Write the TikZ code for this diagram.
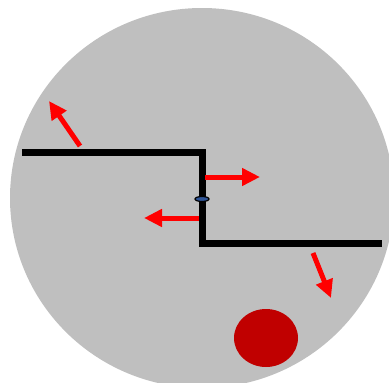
\documentclass[tikz,border=0pt]{standalone}
\usetikzlibrary{arrows.meta}
\definecolor{bggray}{HTML}{BFBFBF}
\definecolor{darkred}{HTML}{C00000}
\definecolor{ringblue}{HTML}{2F5597}
\tikzset{
  wall/.style={line width=7pt, black, line cap=butt},
  redarrow/.style={draw=red, line width=5pt, -{Triangle[width=17pt,length=18pt]}, red},
}
\begin{document}
\begin{tikzpicture}[x=1pt,y=-1pt]
\useasboundingbox (0,0) rectangle (389,383);
\begin{scope}
\clip (0,0) rectangle (389,383);
\fill[bggray] (202,198) ellipse [x radius=192, y radius=190];
\fill[darkred] (266,338) ellipse [x radius=32, y radius=29];
\end{scope}
% wall
\draw[wall] (22,152.5) -- (203,152.5);
\draw[wall] (202,149) -- (202,246.5);
\draw[wall] (201,243) -- (382,243);
\filldraw[fill=ringblue, draw=black, line width=1.2pt] (202,199) ellipse [x radius=7, y radius=2.5];
% arrows
\coordinate (a1s) at (80,146); \coordinate (a1e) at (49,101);
\coordinate (a2s) at (205,177); \coordinate (a2e) at (260,177);
\coordinate (a3s) at (199,218); \coordinate (a3e) at (144,218);
\coordinate (a4s) at (313,253); \coordinate (a4e) at (331,298);
\draw[redarrow] (a1s) -- (a1e);
\draw[redarrow] (a2s) -- (a2e);
\draw[redarrow] (a3s) -- (a3e);
\draw[redarrow] (a4s) -- (a4e);
\end{tikzpicture}
\end{document}
